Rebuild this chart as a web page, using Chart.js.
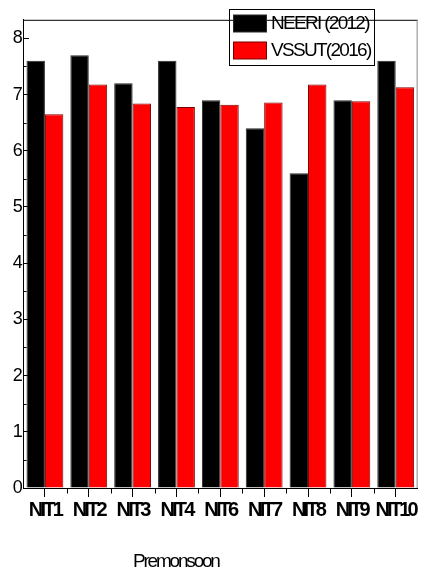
<!DOCTYPE html>
<html>
<head>
<meta charset="utf-8">
<script src="https://cdn.jsdelivr.net/npm/chart.js@4/dist/chart.umd.min.js"></script>
<style>
  html, body { margin: 0; padding: 0; background: #fff; }
  canvas { display: block; }
</style>
</head>
<body>
<canvas id="c" width="424" height="575"></canvas>
<script>
// Sampling sites and the two survey series
const sites = ['NIT1', 'NIT2', 'NIT3', 'NIT4', 'NIT6', 'NIT7', 'NIT8', 'NIT9', 'NIT10'];
const neeri2012 = [7.6, 7.7, 7.2, 7.6, 6.9, 6.4, 5.6, 6.9, 7.6];
const vssut2016 = [6.65, 7.18, 6.84, 6.78, 6.82, 6.86, 7.18, 6.88, 7.13];
const seriesNames = ['NEERI (2012)', 'VSSUT(2016)'];
const yTicks = [0, 1, 2, 3, 4, 5, 6, 7, 8];
const seasonLabel = 'Premonsoon';

const FONT = "'Liberation Sans', Arial, sans-serif";

// Box frame, minor ticks, inset legend and season caption
const extras = {
  id: 'extras',
  beforeDraw(chart) {
    chart.ctx.letterSpacing = '-2.8px';
  },
  afterDraw(chart) {
    const ctx = chart.ctx;
    const { left, top, right, bottom } = chart.chartArea;
    const xs = chart.scales.x, ys = chart.scales.y;
    ctx.save();
    ctx.lineWidth = 1;

    // top and right edges of the frame
    ctx.strokeStyle = '#000';
    ctx.beginPath();
    ctx.moveTo(left, top + 0.5);
    ctx.lineTo(right, top + 0.5);
    ctx.stroke();
    ctx.strokeStyle = '#888';
    ctx.beginPath();
    ctx.moveTo(right - 0.5, top);
    ctx.lineTo(right - 0.5, bottom);
    ctx.stroke();

    // minor y ticks (inward) at half steps
    ctx.strokeStyle = '#000';
    const ax = Math.round(left - 0.5) + 0.5;
    for (let i = 0; i < yTicks.length; i++) {
      const v = yTicks[i] + 0.5;
      if (v > ys.max) break;
      const y = Math.round(ys.getPixelForValue(v)) + 0.5;
      ctx.beginPath();
      ctx.moveTo(ax, y);
      ctx.lineTo(ax + 3, y);
      ctx.stroke();
    }

    // short x ticks (outward) between categories
    const by = Math.round(bottom - 0.5) + 0.5;
    for (let i = 0; i < sites.length - 1; i++) {
      const x = Math.round((xs.getPixelForValue(i) + xs.getPixelForValue(i + 1)) / 2) + 0.5;
      ctx.beginPath();
      ctx.moveTo(x, by);
      ctx.lineTo(x, by + 5);
      ctx.stroke();
    }

    // legend box
    ctx.strokeStyle = '#000';
    ctx.strokeRect(229.5, 9.5, 145, 56);
    const rows = [20, 47];
    chart.data.datasets.forEach((ds, i) => {
      const ry = rows[i] - 5;
      ctx.fillStyle = ds.backgroundColor;
      ctx.fillRect(233.5, ry, 33, 17);
      ctx.strokeStyle = ds.borderColor;
      ctx.strokeRect(233.5, ry, 33, 17);
      ctx.fillStyle = '#000';
      ctx.font = '19px ' + FONT;
      ctx.letterSpacing = '-1.7px';
      ctx.textAlign = 'left';
      ctx.textBaseline = 'middle';
      ctx.fillText(ds.label, 271, rows[i] + 4);
    });

    // season caption under the axis
    ctx.fillStyle = '#000';
    ctx.font = '19px ' + FONT;
    ctx.letterSpacing = '-2.2px';
    ctx.textAlign = 'left';
    ctx.textBaseline = 'alphabetic';
    ctx.fillText(seasonLabel, 133, 567);
    ctx.restore();
    ctx.letterSpacing = '0px';
  }
};

new Chart(document.getElementById('c'), {
  type: 'bar',
  data: {
    labels: sites,
    datasets: [
      {
        label: seriesNames[0],
        data: neeri2012,
        backgroundColor: '#000000',
        borderColor: '#2a2a2a',
        borderWidth: 1
      },
      {
        label: seriesNames[1],
        data: vssut2016,
        backgroundColor: '#ff0000',
        borderColor: '#7a0000',
        borderWidth: 1
      }
    ]
  },
  options: {
    responsive: false,
    animation: false,
    events: [],
    layout: { padding: { top: 4, right: 1, bottom: 0, left: 0 } },
    datasets: { bar: { categoryPercentage: 0.84, barPercentage: 1.0 } },
    plugins: {
      legend: { display: false },
      tooltip: { enabled: false },
      title: { display: false }
    },
    scales: {
      x: {
        afterFit(scale) { scale.height = 87; },
        grid: {
          offset: false,
          drawOnChartArea: false,
          tickLength: 9,
          color: '#000',
          tickWidth: 1
        },
        border: { display: true, color: '#000', width: 1 },
        ticks: {
          color: '#000',
          font: { family: FONT, size: 20, weight: 'bold' },
          padding: 1,
          maxRotation: 0,
          minRotation: 0,
          autoSkip: false
        }
      },
      y: {
        min: 0,
        max: 8.33,
        afterFit(scale) { scale.width = 23; },
        afterBuildTicks(scale) {
          scale.ticks = yTicks.map(v => ({ value: v }));
        },
        grid: {
          drawOnChartArea: false,
          tickLength: -6,
          color: '#000',
          tickWidth: 1
        },
        border: { display: true, color: '#000', width: 1 },
        ticks: {
          color: '#000',
          font: { family: FONT, size: 18 },
          padding: 9,
          callback: v => String(v)
        }
      }
    }
  },
  plugins: [extras]
});
</script>
</body>
</html>
